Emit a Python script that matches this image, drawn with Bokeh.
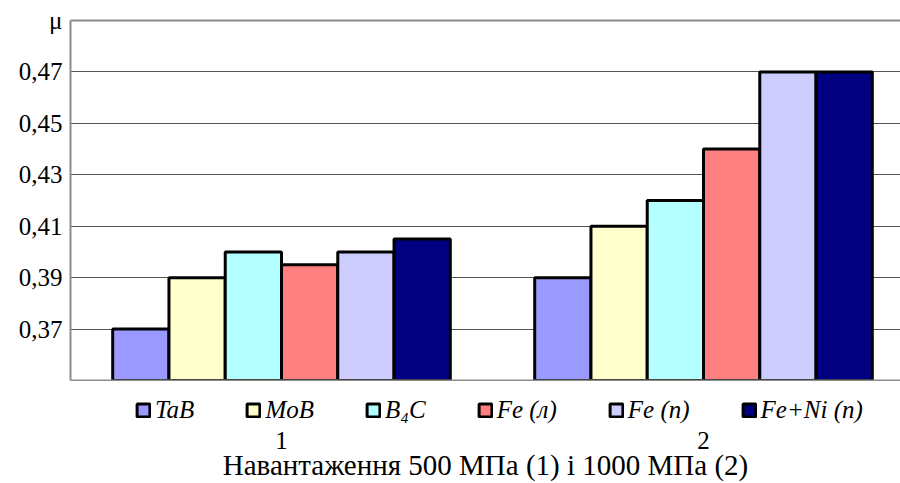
from bokeh.plotting import figure
from bokeh.layouts import column
from bokeh.models import (Range1d, FixedTicker, LinearAxis, Legend, LegendItem,
                          CustomJSTickFormatter)
from bokeh.embed import file_html
from bokeh.resources import INLINE

# Friction coefficient for two load levels
groups = ["1", "2"]
materials = ["TaB", "MoB", "B₄C", "Fe (л)", "Fe (п)", "Fe+Ni (п)"]
tab = [0.370, 0.390]
mob = [0.390, 0.410]
b4c = [0.400, 0.420]
fe_l = [0.395, 0.440]
fe_p = [0.400, 0.470]
fe_ni = [0.405, 0.470]
series = [tab, mob, b4c, fe_l, fe_p, fe_ni]
colors = ["#9999FF", "#FFFFCC", "#B4FFFF", "#FF8080", "#CCCCFF", "#000080"]
y_ticks = [0.37, 0.39, 0.41, 0.43, 0.45, 0.47]
y_name = "μ"
x_label = "Навантаження 500 МПа (1) і 1000 МПа (2)"

Y_MIN, Y_MAX = 0.35, 0.49
X_END = 830 / 422
GROUP_WIDTH = 0.8
SERIF = "Liberation Serif"
AXIS_GRAY = "#8c8c8c"

x_range = Range1d(0, X_END)
n = len(series)
bw = GROUP_WIDTH / n


def bar_positions(i):
    return [g + 0.5 + (i - (n - 1) / 2) * bw for g in range(len(groups))]


# ---- chart area ----
p = figure(width=900, height=381, output_backend="svg", toolbar_location=None,
           x_range=x_range, y_range=Range1d(Y_MIN, Y_MAX),
           x_axis_location=None, y_axis_location="left",
           min_border_left=70, min_border_right=0, min_border_top=20,
           min_border_bottom=1)
p.outline_line_color = None

# left value axis; the top tick carries the quantity symbol
ax = p.yaxis[0]
ax.ticker = FixedTicker(ticks=y_ticks + [Y_MAX])
ax.formatter = CustomJSTickFormatter(
    args=dict(top=Y_MAX, name=y_name),
    code="return Math.abs(tick - top) < 1e-9 ? name : tick.toFixed(2).replace('.', ',');")
ax.axis_line_color = AXIS_GRAY
ax.axis_line_width = 2
ax.major_tick_line_color = None
ax.minor_tick_line_color = None
ax.major_tick_out = 0
ax.major_label_text_font = SERIF
ax.major_label_text_font_size = "25px"
ax.major_label_text_color = "black"
ax.major_label_standoff = 8

p.ygrid.ticker = FixedTicker(ticks=y_ticks)
p.ygrid.grid_line_color = "#555555"
p.ygrid.grid_line_width = 1
p.xgrid.visible = False


def border_axis():
    return LinearAxis(ticker=FixedTicker(ticks=[]), axis_line_color=AXIS_GRAY,
                      axis_line_width=2, major_tick_line_color=None,
                      minor_tick_line_color=None, major_tick_out=0,
                      major_label_standoff=0, major_label_text_font_size="0px")


p.add_layout(border_axis(), "above")
p.add_layout(border_axis(), "below")

for i, (vals, col) in enumerate(zip(series, colors)):
    p.vbar(x=bar_positions(i), top=vals, bottom=Y_MIN, width=bw, fill_color=col,
           line_color="black", line_width=3)

# ---- legend and category axis ----
q = figure(width=900, height=102, output_backend="svg", toolbar_location=None,
           x_range=x_range, y_range=Range1d(0, 1),
           x_axis_location=None, y_axis_location=None,
           min_border_left=70, min_border_right=0, min_border_top=0,
           min_border_bottom=0)
q.outline_line_color = None
q.xgrid.visible = False
q.ygrid.visible = False

# hidden copies of the series supply the legend swatches
items = []
for i, (vals, col, name) in enumerate(zip(series, colors, materials)):
    r = q.vbar(x=bar_positions(i), top=vals, bottom=Y_MIN, width=bw, fill_color=col,
               line_color="black", line_width=3, visible=False)
    items.append(LegendItem(label=name, renderers=[r]))

legend = Legend(items=items, orientation="horizontal", location=(65, 7),
                border_line_color=None, background_fill_alpha=0,
                inactive_fill_alpha=0,
                label_text_font=SERIF, label_text_font_style="italic",
                label_text_font_size="25px", label_text_color="black",
                glyph_width=16, glyph_height=16,
                label_standoff=4, spacing=51, padding=0, margin=0)
q.add_layout(legend, "center")

cat_axis = LinearAxis(ticker=FixedTicker(ticks=[g + 0.5 for g in range(len(groups))]),
                      major_label_overrides={g + 0.5: lab for g, lab in enumerate(groups)},
                      axis_line_color=None, major_tick_line_color=None,
                      minor_tick_line_color=None, major_tick_out=0,
                      major_label_text_font=SERIF, major_label_text_font_size="25px",
                      major_label_text_color="black", major_label_standoff=0,
                      axis_label=x_label, axis_label_text_font=SERIF,
                      axis_label_text_font_size="29px", axis_label_text_font_style="normal",
                      axis_label_text_color="black", axis_label_standoff=-3)
q.add_layout(cat_axis, "below")

layout = column(p, q, spacing=0)
open("out.html", "w").write(file_html(layout, INLINE))
